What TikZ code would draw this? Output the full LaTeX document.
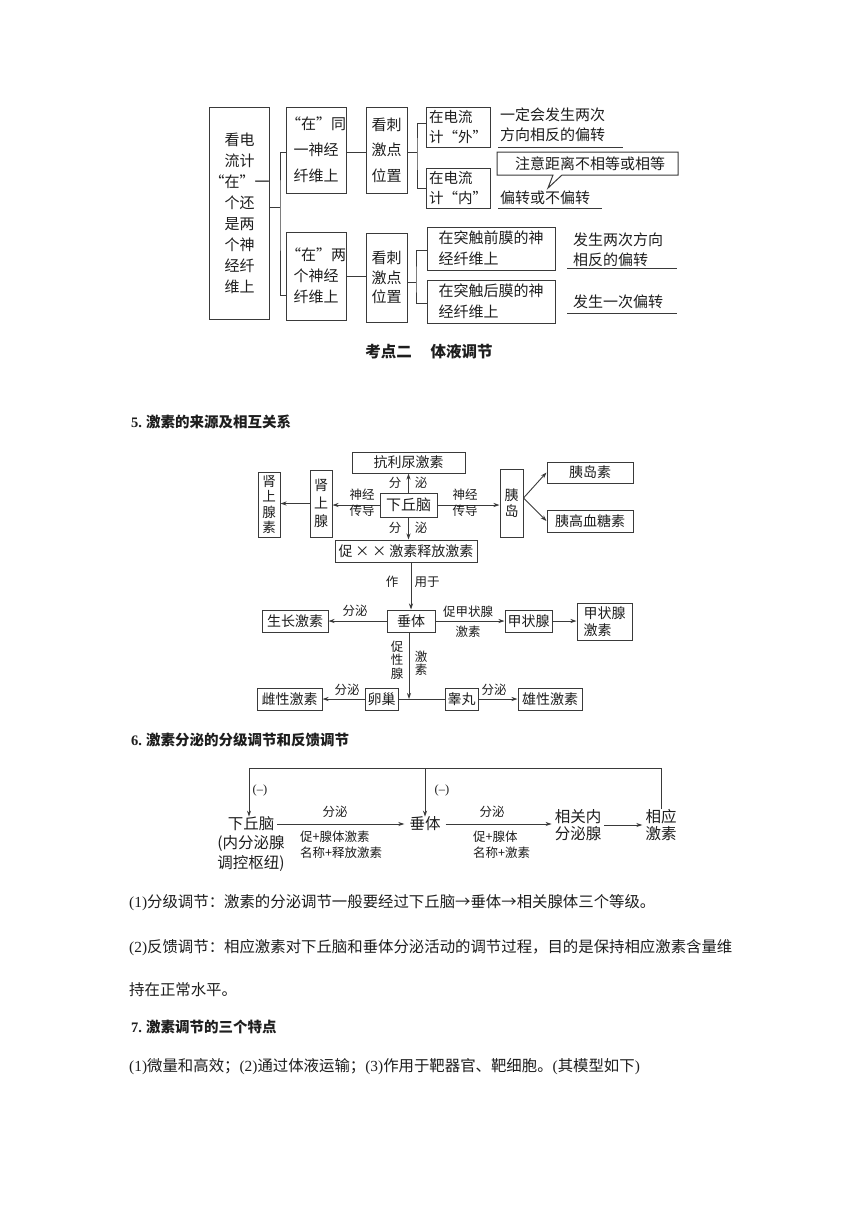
\documentclass[tikz,border=0pt]{standalone}
\usepackage{fontspec}
\setmainfont{Noto Sans CJK SC}
\newfontfamily\latf{Liberation Serif}
\usetikzlibrary{arrows.meta}
\definecolor{lc}{HTML}{3A3A3A}
\definecolor{tc}{HTML}{1E1E1E}
\newcommand\fsz[2]{\fontsize{#1}{#2}\selectfont}
\tikzset{
 bx/.style={draw=lc, line width=1pt, inner sep=0pt, align=center, text=tc},
 lbl/.style={inner sep=0pt, text=tc, align=center},
 ln/.style={draw=lc, line width=1pt},
 arr/.style={draw=lc, line width=0.9pt, -{Stealth[length=6pt,width=4pt]}},
}
\begin{document}
\begin{tikzpicture}[x=1pt,y=-1pt]
\fill[white] (0,0) rectangle (860,1216);
\useasboundingbox (0,0) rectangle (860,1216);

% ---------- diagram 1 ----------
\node[bx, minimum width=55pt, minimum height=212pt, font=\fsz{15}{21}] (b0) at (239.5,213) {看电\\流计\\“在”一\\个还\\是两\\个神\\经纤\\维上};
\node[bx, minimum width=52pt, minimum height=86pt, font=\fsz{15}{26}] (b1) at (316,150) {“在”同\\一神经\\纤维上};
\node[bx, minimum width=52pt, minimum height=88pt, font=\fsz{15}{21}] (b2) at (316,276) {“在”两\\个神经\\纤维上};
\node[bx, minimum width=41pt, minimum height=86pt, font=\fsz{15}{25.5}] (b3) at (386.5,150) {看刺\\激点\\位置};
\node[bx, minimum width=41pt, minimum height=89pt, font=\fsz{15}{19.5}] (b4) at (386.5,277.5) {看刺\\激点\\位置};
\node[bx, minimum width=64pt, minimum height=40pt, align=left, font=\fsz{14.5}{20}] (b5) at (458,127) {在电流\\计“外”};
\node[bx, minimum width=64pt, minimum height=40pt, align=left, font=\fsz{14.5}{20}] (b6) at (458,188) {在电流\\计“内”};
\node[bx, minimum width=128pt, minimum height=43pt, align=left, font=\fsz{15}{21}] (b7) at (491,248.5) {在突触前膜的神\\经纤维上};
\node[bx, minimum width=128pt, minimum height=43pt, align=left, font=\fsz{15}{21}] (b8) at (491,301.5) {在突触后膜的神\\经纤维上};

\coordinate (j0) at (280,207);
\draw[ln] (b0.east |- j0) -- (j0);
\draw[ln] ([yshift=-2pt]b1.west) -| (j0) |- ([yshift=-19pt]b2.west);
\draw[ln] ([yshift=-2pt]b1.east) -- ([yshift=-2pt]b1.east -| b3.west);
\draw[ln] (b2.east) -- (b2.east -| b4.west);
\coordinate (j1) at (417,152);
\draw[ln] (b3.east |- j1) -- (j1);
\draw[ln] ([yshift=4pt]b5.west) -| (j1) |- (b6.west);
\coordinate (j2) at (416,282);
\draw[ln] (b4.east |- j2) -- (j2);
\draw[ln] ([yshift=-1.5pt]b7.west) -| (j2) |- ([yshift=-1.5pt]b8.west);

\node[lbl, anchor=west, align=left, font=\fsz{15}{20}] (t1) at (500,125) {一定会发生两次\\方向相反的偏转};
\draw[ln] (498,147) -- (623,147);
\draw[ln] (497,152) -- (678,152) -- (678,175) -- (562,175) -- (548,188) -- (553,175) -- (497,175) -- cycle;
\node[lbl, font=\fsz{15}{18}] (t2) at (590,163.5) {注意距离不相等或相等};
\node[lbl, anchor=west, font=\fsz{15}{18}] (t3) at (500,198) {偏转或不偏转};
\draw[ln] (498,208) -- (602,208);
\node[lbl, anchor=west, align=left, font=\fsz{15}{20}] (t4) at (573,250) {发生两次方向\\相反的偏转};
\draw[ln] (567,268) -- (677,268);
\node[lbl, anchor=west, font=\fsz{15}{18}] (t5) at (573,302) {发生一次偏转};
\draw[ln] (567,313) -- (677,313);

% ---------- headings ----------
\node[lbl, font=\bfseries\fsz{15.5}{18}] (hd) at (429,352) {考点二\hspace{1.2em}体液调节};
\node[lbl, anchor=west, font=\bfseries\fsz{14.5}{17}] (h5) at (131,422) {{\latf 5.}\hspace{4pt}激素的来源及相互关系};

% ---------- diagram 2 ----------
\node[bx, minimum width=113pt, minimum height=21pt, font=\fsz{14}{16}] (kl) at (408.5,462.5) {抗利尿激素};
\node[bx, minimum width=57pt, minimum height=24pt, font=\fsz{15}{17}] (xqn) at (408.5,505) {下丘脑};
\node[bx, minimum width=142pt, minimum height=22pt, font=\fsz{14}{16}] (cx) at (406,551) {促\hspace{3pt}×\hspace{3pt}×\hspace{3pt}激素释放激素};
\node[bx, minimum width=22pt, minimum height=67pt, font=\fsz{14}{18}] (sx) at (321,503.5) {肾\\上\\腺};
\node[bx, minimum width=22pt, minimum height=65pt, font=\fsz{13.5}{15.5}] (sxs) at (269,504.5) {肾\\上\\腺\\素};
\node[bx, minimum width=23pt, minimum height=68pt, font=\fsz{14}{16}] (yd) at (511.5,503) {胰\\岛};
\node[bx, minimum width=86pt, minimum height=21pt, font=\fsz{14}{16}] (yds) at (590,472.5) {胰岛素};
\node[bx, minimum width=86pt, minimum height=22pt, font=\fsz{14}{16}] (ygx) at (590,521) {胰高血糖素};
\node[bx, minimum width=48pt, minimum height=22pt, font=\fsz{14}{16}] (ct) at (411,621) {垂体};
\node[bx, minimum width=66pt, minimum height=22pt, font=\fsz{14}{16}] (szjs) at (295,621) {生长激素};
\node[bx, minimum width=47pt, minimum height=22pt, font=\fsz{14}{16}] (jzx) at (528.5,621) {甲状腺};
\node[bx, minimum width=55pt, minimum height=37pt, align=left, font=\fsz{14}{17}] (jzxjs) at (604.5,621.5) {甲状腺\\激素};
\node[bx, minimum width=33pt, minimum height=22pt, font=\fsz{14}{16}] (lc) at (381.5,699) {卵巢};
\node[bx, minimum width=65pt, minimum height=22pt, font=\fsz{14}{16}] (cxjs) at (289.5,699) {雌性激素};
\node[bx, minimum width=33pt, minimum height=22pt, font=\fsz{14}{16}] (gw) at (461.5,699) {睾丸};
\node[bx, minimum width=64pt, minimum height=22pt, font=\fsz{14}{16}] (xxjs) at (550,699) {雄性激素};

\draw[arr] (xqn) -- (kl);
\draw[arr] (xqn.south) -- (xqn.south |- cx.north);
\draw[arr] (ct.north |- cx.south) -- (ct.north);
\draw[arr] (xqn.west) -- (xqn.west -| sx.east);
\draw[arr] (sx.west) -- (sx.west -| sxs.east);
\draw[arr] (xqn.east) -- (xqn.east -| yd.west);
\draw[arr] ([yshift=5pt]yd.east) -- (yds.west);
\draw[arr] ([yshift=5pt]yd.east) -- (ygx.west);
\draw[arr] (ct.west) -- (ct.west -| szjs.east);
\draw[arr] (ct.east) -- (ct.east -| jzx.west);
\draw[arr] (jzx.east) -- (jzx.east -| jzxjs.west);
\coordinate (j3) at (409,699);
\draw[arr] (j3 |- ct.south) -- (j3);
\draw[ln] (lc.east) -- (gw.west);
\draw[arr] (lc.west) -- (lc.west -| cxjs.east);
\draw[arr] (gw.east) -- (gw.east -| xxjs.west);

\begin{scope}[every node/.style={lbl, font=\fsz{12.5}{16}}]
\node (l1) at (395,483) {分};
\node (l2) at (421,483) {泌};
\node (l3) at (395,528) {分};
\node (l4) at (421,528) {泌};
\node (l5) at (392,582) {作};
\node (l6) at (427,582) {用于};
\node (l7) at (362,503) {神经\\传导};
\node (l8) at (465,503) {神经\\传导};
\node (l9) at (355,611) {分泌};
\node (l10) at (468,612) {促甲状腺};
\node (l11) at (468,632) {激素};
\node[font=\fsz{12.5}{13.5}] (l12) at (397,660) {促\\性\\腺};
\node[font=\fsz{12.5}{13.5}] (l13) at (421,663) {激\\素};
\node (l14) at (347,690) {分泌};
\node (l15) at (494,690) {分泌};
\end{scope}

% ---------- heading 6 ----------
\node[lbl, anchor=west, font=\bfseries\fsz{14.5}{17}] (h6) at (131,740) {{\latf 6.}\hspace{4pt}激素分泌的分级调节和反馈调节};

% ---------- diagram 3 ----------
\node[lbl, inner xsep=3pt, font=\fsz{15.5}{18}] (hq) at (251,824) {下丘脑};
\node[lbl, anchor=north, font=\fsz{15.5}{20}] (hqn) at (251,835) {(内分泌腺\\调控枢纽)};
\node[lbl, inner xsep=5pt, font=\fsz{15.5}{18}] (ct2) at (425,824) {垂体};
\node[lbl, inner xsep=3pt, font=\fsz{15.5}{17}] (xg) at (578,825) {相关内\\分泌腺};
\node[lbl, inner xsep=3pt, font=\fsz{15.5}{17}] (xy) at (661,825) {相应\\激素};
\coordinate (tl) at (249,768);
\coordinate (tm) at (425,768);
\draw[arr] (xy.north) |- (tl) -- (tl |- hq.north);
\draw[arr] (tm) -- (tm |- ct2.north);
\draw[arr] (hq.east) -- (hq.east -| ct2.west);
\draw[arr] (ct2.east) -- (ct2.east -| xg.west);
\draw[arr] (xg.east) -- (xg.east -| xy.west);
\node[lbl, font=\latf\fsz{12.5}{15}] (m1) at (260,790) {(–)};
\node[lbl, font=\latf\fsz{12.5}{15}] (m2) at (442,790) {(–)};
\node[lbl, font=\fsz{12.5}{15}] (n1) at (335,812) {分泌};
\node[lbl, anchor=west, align=left, font=\fsz{12.5}{16}] (n2) at (300,845) {促+腺体激素\\名称+释放激素};
\node[lbl, font=\fsz{12.5}{15}] (n3) at (492,812) {分泌};
\node[lbl, anchor=west, align=left, font=\fsz{12.5}{16}] (n4) at (473,845) {促+腺体\\名称+激素};

% ---------- body text ----------
\begin{scope}[every node/.style={lbl, anchor=west, font=\fsz{15.4}{18}}]
\node (p1) at (129,903) {{\latf(1)}分级调节：激素的分泌调节一般要经过下丘脑→垂体→相关腺体三个等级。};
\node (p2) at (129,948) {{\latf(2)}反馈调节：相应激素对下丘脑和垂体分泌活动的调节过程，目的是保持相应激素含量维};
\node (p3) at (129,990) {持在正常水平。};
\node[font=\bfseries\fsz{14.5}{17}] (h7) at (131,1027) {{\latf 7.}\hspace{4pt}激素调节的三个特点};
\node (p4) at (129,1067) {{\latf(1)}微量和高效；{\latf(2)}通过体液运输；{\latf(3)}作用于靶器官、靶细胞。{\latf(}其模型如下{\latf)}};
\end{scope}
\end{tikzpicture}
\end{document}
